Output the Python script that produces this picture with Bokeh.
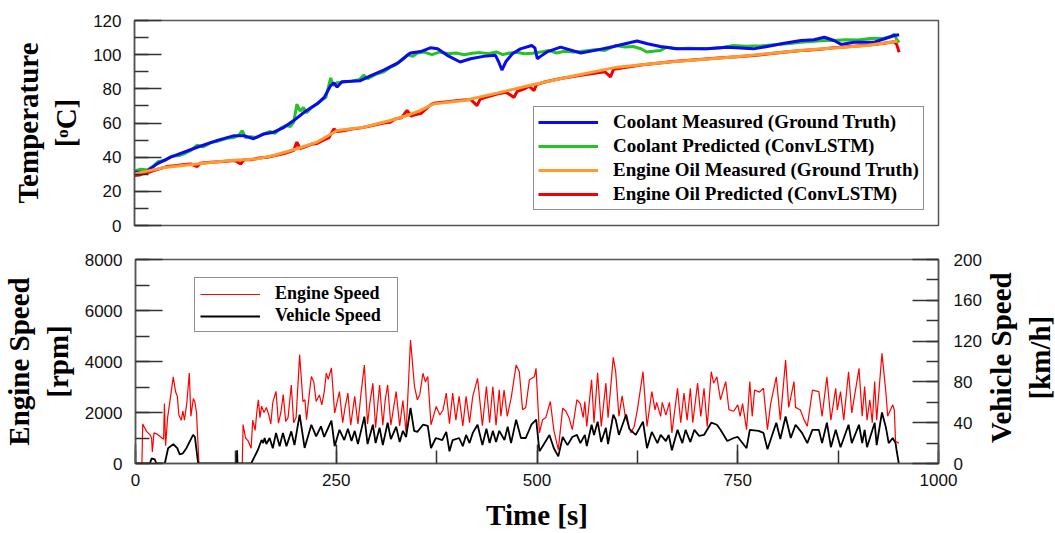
import math
from bokeh.plotting import figure
from bokeh.layouts import column, row
from bokeh.models import Range1d, LinearAxis, SingleIntervalTicker, Legend, LegendItem
from bokeh.core.properties import value
from bokeh.embed import file_html
from bokeh.resources import INLINE

# ---------------- data ----------------
coolant_meas_t = [0, 14, 28, 45, 78, 103, 124, 136, 148, 161, 173, 186, 198, 211, 227, 236, 244, 248, 252, 258,
                  281, 294, 310, 327, 343, 356, 368, 377, 389, 405, 418, 434, 449, 453, 457, 462, 470, 480, 494,
                  498, 501, 505, 513, 530, 555, 576, 596, 613, 625, 638, 654, 675, 712, 737, 770, 787, 808, 829,
                  845, 858, 870, 879, 895, 920, 933, 945, 951]
coolant_meas = [31.2, 31.2, 36.1, 40, 45.8, 49.8, 52.6, 52.6, 50.8, 53.6, 54.6, 57.5, 61.4, 66.3, 71.2, 75, 81.9,
                83.5, 81, 84.2, 84.8, 87.7, 91, 95, 101, 101.8, 104, 103.5, 99.6, 95.7, 97.6, 99, 99.6, 95.7, 91,
                96, 100.5, 103.4, 105.4, 104, 97.6, 99, 101.6, 104.4, 101, 102.8, 104.8, 106.7, 108, 106.4, 104.8,
                103.4, 103.4, 104.4, 103.4, 104.8, 106.7, 108.3, 108.7, 110.2, 108.3, 106, 107.3, 107.3, 109.3,
                111.2, 111.7]

coolant_pred_t = [0, 8, 16, 24, 30, 38, 46, 55, 62, 70, 78, 85, 95, 105, 115, 124, 130, 134, 138, 145, 152, 160,
                  168, 175, 182, 188, 194, 198, 202, 206, 210, 214, 220, 227, 232, 238, 244, 247, 252, 260, 270,
                  280, 285, 290, 300, 310, 318, 325, 333, 340, 346, 352, 360, 370, 380, 390, 400, 410, 420, 430,
                  440, 450, 458, 465, 475, 485, 495, 505, 515, 525, 535, 545, 555, 565, 575, 585, 599, 610, 620,
                  630, 637, 645, 654, 662, 672, 690, 710, 730, 745, 760, 780, 800, 815, 829, 845, 860, 870, 885,
                  900, 915, 932, 940, 945, 948, 951]
coolant_pred = [32, 33, 32.5, 35, 37.5, 38, 40.5, 41, 42, 44, 47, 46, 48.5, 49.5, 51, 51.5, 53, 55.5, 51.5, 52,
                51.5, 53.5, 55, 54, 57, 58.5, 58, 60.5, 71, 67, 69, 66, 69, 71, 73, 75, 86.4, 82, 83.5, 84, 84.5,
                85.5, 88, 86, 88.5, 90, 92.5, 94, 97, 100, 99, 101, 101.5, 100, 101.6, 100.5, 101, 100, 100.8,
                101.2, 100.5, 101.6, 100, 100.8, 101.4, 100.5, 100.8, 101.5, 102.5, 101, 102, 101.5, 101.8, 102.5,
                103, 102.5, 105.4, 104.5, 104.8, 103.5, 101.6, 102, 102.5, 104.4, 103.5, 103.8, 103.5, 104, 105.4,
                105, 105.2, 106, 106.5, 107.3, 107.8, 108.3, 108.3, 108.8, 108.6, 109.5, 109.6, 110.5, 112, 109,
                107]

oil_meas_t = [0, 37, 78, 119, 152, 173, 202, 227, 252, 285, 318, 339, 356, 372, 410, 451, 491, 538, 600, 662,
              745, 828, 911, 949]
oil_meas = [30.2, 34, 36, 38, 39, 41, 44.9, 48.8, 55.6, 57.5, 61.5, 64.4, 67.4, 71.2, 73.2, 77.5, 82, 86.8,
            92.7, 95.6, 98.6, 102.4, 105.4, 107.9]

oil_pred_t = [0, 6, 12, 20, 30, 40, 50, 60, 70, 78, 82, 95, 110, 125, 132, 136, 145, 155, 165, 175, 185, 192,
              198, 202, 206, 212, 220, 227, 235, 242, 248, 252, 260, 270, 280, 290, 300, 310, 318, 325, 332, 339,
              344, 350, 356, 362, 368, 372, 380, 390, 400, 410, 418, 426, 430, 440, 451, 462, 472, 476, 485, 491,
              497, 500, 510, 520, 530, 540, 555, 570, 585, 592, 596, 610, 630, 650, 670, 690, 710, 730, 750, 770,
              790, 810, 830, 850, 870, 890, 910, 930, 945, 948, 951]
oil_pred = [29.2, 29.5, 30.5, 31.5, 33, 34.5, 35, 35.5, 36, 34.5, 36.5, 37, 37.5, 38, 36, 38.5, 38.5, 39.5, 40,
            41, 42, 43, 44, 48.8, 45, 46, 47.5, 48, 50, 51.5, 56.5, 55, 55.5, 56.5, 57, 58, 59, 60, 60.5, 62.5,
            63, 67.4, 64, 65, 65.5, 68, 70.5, 71.5, 72, 72.5, 73, 73.5, 73.8, 70.2, 74, 75.5, 77, 78, 75, 78.5,
            80, 81.5, 79, 82.5, 84, 85, 86, 86.8, 88, 89, 90, 87, 91.5, 92.5, 94, 95, 96, 96.8, 97.5, 98.2,
            98.8, 99.5, 100.5, 101.5, 102.5, 103, 104, 104.8, 105.5, 106.5, 107.5, 106, 101.4]

engine_t = [0, 8, 9, 14, 18, 20, 21, 23, 27, 31, 35, 36, 37.5, 40, 44, 47, 50, 52, 54, 57, 59, 61, 64, 67, 69, 72,
            74, 76, 79, 133, 134, 137, 140, 144, 146, 149, 151, 153, 155, 157, 160, 163, 166, 168.5, 171, 175,
            178, 181, 184, 187, 190, 194, 197, 200, 204.4, 208.5, 211, 213, 216, 219, 222, 225, 229, 232, 235,
            237.6, 240, 244, 248, 251, 254, 258, 261, 264.5, 268, 273, 277, 281, 285, 289, 292, 295.6, 299, 304,
            308, 311, 314, 318, 324.6, 329, 333, 337, 342.5, 347.4, 351, 354, 358, 361, 364, 368, 374.5, 379,
            383, 387, 391, 395, 399, 403, 407.6, 411.7, 416, 420, 426, 432, 437, 441, 445, 449, 453, 455, 459,
            463, 468, 474, 478, 482, 486, 490.5, 496.7, 498.8, 503, 507, 511, 516.6, 521, 526.5, 532, 536, 540,
            544, 549.7, 554, 557.5, 559.6, 562, 568, 571, 575.5, 580, 585.8, 588.5, 595, 598, 602, 606, 610, 617,
            621, 625, 632, 637, 643, 647, 649, 654, 656, 660.5, 665, 668, 675, 679, 683, 687, 691, 694, 700, 704,
            708, 712, 717, 720, 724, 728.5, 735, 739, 745, 750, 753, 756, 761, 765, 768, 771, 777, 782, 787, 791,
            798, 803, 809.6, 813.5, 820, 822, 828, 832.5, 836.6, 843, 851, 855, 861, 866, 872, 874, 878, 882,
            888, 892, 901, 905, 908, 911, 914.5, 917.5, 920.5, 923, 929.6, 934.6, 936.7, 943, 945, 946.5, 950.6]
engine_rpm = [0, 0, 1550, 1250, 1130, 1000, 450, 1200, 1150, 1050, 950, 2350, 700, 1800, 2700, 3400, 2800, 2650,
              1900, 1700, 2050, 1700, 2400, 3550, 1850, 2550, 2400, 2000, 0, 0, 1530, 1000, 900, 600, 1700, 1300,
              2000, 2500, 1800, 2250, 2000, 2200, 1900, 1550, 2400, 2830, 1580, 2000, 2700, 1650, 1800, 3080,
              1600, 1800, 4260, 2430, 2500, 1720, 2600, 3410, 3200, 2430, 2690, 2300, 2800, 3540, 3300, 3750,
              1980, 2400, 2820, 1600, 2200, 2760, 1500, 2630, 1550, 2800, 3860, 1550, 2400, 3150, 1400, 3080,
              1500, 2500, 3080, 1500, 2820, 1470, 2470, 1210, 4840, 3020, 2500, 2700, 3540, 3200, 3410, 1520,
              2240, 1900, 2100, 2760, 1560, 2760, 1700, 2630, 1470, 2630, 1600, 2630, 3340, 1480, 3020, 1600,
              3020, 1500, 2890, 1850, 2880, 1850, 2600, 3860, 3600, 2110, 2200, 3280, 3400, 3730, 1200, 1720,
              1800, 2430, 1300, 545, 2170, 2050, 1780, 1330, 2500, 2350, 1800, 2430, 1450, 3280, 1600, 3560,
              1450, 3150, 1800, 4160, 3600, 1850, 2650, 1850, 1200, 1450, 2100, 3600, 1450, 2820, 2100, 2400,
              1850, 2400, 1900, 2400, 1200, 2950, 1600, 2760, 1700, 2950, 1600, 3150, 1850, 2950, 1450, 3600,
              3150, 3400, 2500, 3210, 2110, 2050, 2300, 1850, 2350, 1330, 3210, 1850, 2880, 2800, 2950, 1330,
              2350, 3400, 1700, 4060, 2200, 3210, 2200, 2100, 1720, 1460, 2880, 2820, 1850, 3400, 1700, 2950,
              2100, 2820, 1700, 3600, 1980, 3730, 1850, 3020, 1700, 2500, 1600, 3210, 1700, 4320, 2750, 1850,
              2300, 2100, 870, 800]

vehicle_t = [0, 18, 20, 24, 26, 36.5, 40.6, 47, 52, 55, 59, 63.4, 71.7, 74, 78, 126, 126.5, 127, 144, 148.4,
             152.5, 157, 159, 160.8, 163, 167, 171, 175, 179.5, 183.6, 188, 194, 198, 204.4, 210.6, 219, 225,
             231, 235, 244, 248, 254, 260, 264.5, 269, 273, 277, 285, 289, 295.6, 299, 304, 308, 314, 318, 324.6,
             329, 333, 337, 342.5, 347, 351, 358, 364, 368, 374, 382, 387, 391, 395, 403, 407.6, 411.7, 416, 420,
             426, 432, 437, 441, 445, 449, 453, 459.5, 463.5, 467.7, 474, 480, 486, 493, 499, 503, 507, 515.5,
             521, 526.5, 532, 538, 544, 549.7, 554, 559.6, 562, 568, 571, 575.5, 580, 585.8, 588.5, 595, 598,
             602, 611, 615, 623, 632, 637, 643, 650, 654, 660.5, 664, 668, 675, 681, 685, 691, 696, 702, 708,
             717, 724, 728.5, 737, 745, 750, 761, 765, 776, 782, 787, 798, 803, 809.6, 816, 822, 830, 836.6, 843,
             851, 855, 861, 866, 872, 878, 888, 892, 901, 905, 908, 911, 920.5, 923, 929.6, 934.6, 938, 943,
             946.5, 948, 950.6]
vehicle_kmh = [0, 0, 5, 4, 0, 0, 15, 19, 15, 9, 10, 15, 28, 26, 0, 0, 13, 0, 0, 7, 13.5, 23, 20, 25, 19, 25, 15,
               30, 17, 30, 17, 31.5, 18, 48, 15.3, 38, 26.6, 36.4, 26, 42, 17, 33, 23, 34, 22, 32, 19, 46, 19, 38,
               20, 35, 18, 40, 24, 36, 21, 32, 26, 54.5, 32, 31, 38, 37, 15, 25, 23, 31, 12, 23, 25, 17, 28, 20,
               30, 38, 18, 34, 20, 32, 21, 32, 23, 36, 20, 43, 25, 25, 38, 43, 12, 17, 28, 15, 7, 26, 18, 26, 28,
               20, 28, 17, 38, 28, 41, 21, 35, 19, 48, 43, 28, 48, 34, 28, 41, 15, 31, 20, 28, 22, 28, 13, 33, 20,
               33, 21, 33, 27, 28, 40, 38, 33, 22, 25, 26, 15, 33, 32, 30, 14, 40, 24, 46, 25, 38, 30, 20, 33, 33,
               20, 40, 16, 33, 16, 38, 20, 38, 20, 33, 16, 40, 18, 50, 35, 20, 25, 20, 12, 0]

right_axis_title = ["Vehicle Speed\n[km/h]"]
x_ticks_interval = 250

# ---------------- styling helpers ----------------
TICK_FONT = "Liberation Sans"
SERIF = "Liberation Serif"
FRAME = "#555555"


def style_axis(ax, major_in, minor_in):
    ax.major_tick_in = major_in
    ax.major_tick_out = 0
    ax.minor_tick_in = minor_in
    ax.minor_tick_out = 0
    ax.major_tick_line_color = "#333333"
    ax.minor_tick_line_color = "#333333"
    ax.major_tick_line_width = 1.5
    ax.minor_tick_line_width = 1.5
    ax.axis_line_color = FRAME
    ax.axis_line_width = 1.5
    ax.major_label_text_font = TICK_FONT
    ax.major_label_text_font_size = "17px"
    ax.major_label_text_color = "#111111"
    ax.major_label_standoff = 13
    ax.axis_label_text_font = SERIF
    ax.axis_label_text_font_style = "bold"
    ax.axis_label_text_font_size = "29px"
    ax.axis_label_text_color = "black"
    ax.axis_label_standoff = 8


def style_legend(lg, size, spacing, padding):
    lg.label_text_font = SERIF
    lg.label_text_font_style = "bold"
    lg.label_text_font_size = size
    lg.label_text_color = "black"
    lg.glyph_width = 60
    lg.label_standoff = 15
    lg.padding = padding
    lg.margin = 0
    lg.spacing = spacing
    lg.label_height = 20
    lg.glyph_height = 20
    lg.border_line_color = "#222222"
    lg.border_line_width = 1.2


# ---------------- top: temperatures ----------------
top = figure(width=1055, height=240, x_range=Range1d(0, 1000), y_range=Range1d(0, 120),
             output_backend="svg", toolbar_location=None,
             min_border_left=134, min_border_right=117, min_border_top=20, min_border_bottom=15)
top.xaxis.visible = False
top.grid.visible = False
top.outline_line_color = FRAME
top.outline_line_width = 1.5
top.yaxis.ticker = SingleIntervalTicker(interval=20, num_minor_ticks=2)
top.yaxis.axis_label = "Temperature\n[ᵒC]"
style_axis(top.yaxis[0], 27, 14)

r_green = top.line(coolant_pred_t, coolant_pred, line_color="#22c322", line_width=3)
r_blue = top.line(coolant_meas_t, coolant_meas, line_color="#0a0af0", line_width=3)
r_red = top.line(oil_pred_t, oil_pred, line_color="#f00000", line_width=3)
r_orange = top.line(oil_meas_t, oil_meas, line_color="#ff9a30", line_width=3)

leg_top = Legend(items=[
    LegendItem(label="Coolant Measured (Ground Truth)", renderers=[r_blue]),
    LegendItem(label="Coolant Predicted (ConvLSTM)", renderers=[r_green]),
    LegendItem(label="Engine Oil Measured (Ground Truth)", renderers=[r_orange]),
    LegendItem(label="Engine Oil Predicted (ConvLSTM)", renderers=[r_red]),
], location=(399, 15))
style_legend(leg_top, "19px", 2, 4)
top.add_layout(leg_top)

# ---------------- bottom: speeds ----------------
bot = figure(width=985, height=293, x_range=Range1d(0, 1000), y_range=Range1d(0, 8000),
             output_backend="svg", toolbar_location=None,
             min_border_left=134, min_border_right=47, min_border_top=19, min_border_bottom=69)
bot.grid.visible = False
bot.outline_line_color = FRAME
bot.outline_line_width = 1.5
bot.extra_y_ranges = {"vs": Range1d(0, 200)}

bot.xaxis.ticker = SingleIntervalTicker(interval=x_ticks_interval, num_minor_ticks=2)
bot.xaxis.axis_label = "Time [s]"
style_axis(bot.xaxis[0], 19, 13)
bot.xaxis.major_label_standoff = 10
bot.xaxis.axis_label_standoff = 10

bot.yaxis.ticker = SingleIntervalTicker(interval=2000, num_minor_ticks=2)
bot.yaxis.axis_label = "Engine Speed\n[rpm]"
style_axis(bot.yaxis[0], 27, 14)

rax = LinearAxis(y_range_name="vs", ticker=SingleIntervalTicker(interval=40, num_minor_ticks=2))
style_axis(rax, 26, 12)
rax.major_label_standoff = 15
bot.add_layout(rax, "right")

r_eng = bot.line(engine_t, engine_rpm, line_color="#ff0000", line_width=1.2)
r_veh = bot.line(vehicle_t, vehicle_kmh, line_color="black", line_width=1.8, y_range_name="vs")

leg_bot = Legend(items=[
    LegendItem(label="Engine Speed", renderers=[r_eng]),
    LegendItem(label="Vehicle Speed", renderers=[r_veh]),
], location=(59, 131))
style_legend(leg_bot, "18px", 1, 5)
leg_bot.label_width = 117
bot.add_layout(leg_bot)

# narrow strip holding the right-hand axis title (reads bottom-to-top like the left one)
side = figure(width=70, height=293, x_range=Range1d(0, 1), y_range=Range1d(0, 1),
              output_backend="svg", toolbar_location=None,
              min_border_left=0, min_border_right=0, min_border_top=0, min_border_bottom=0)
side.xaxis.visible = False
side.yaxis.visible = False
side.grid.visible = False
side.outline_line_color = None
side.text(x=[0.5], y=[0.519], text=right_axis_title, angle=math.pi / 2,
          text_align="center", text_baseline="middle", text_font=value(SERIF),
          text_font_style="bold", text_font_size="29px", text_color="black")

layout = column(top, row(bot, side, spacing=0), spacing=0)
open("out.html", "w").write(file_html(layout, INLINE))
